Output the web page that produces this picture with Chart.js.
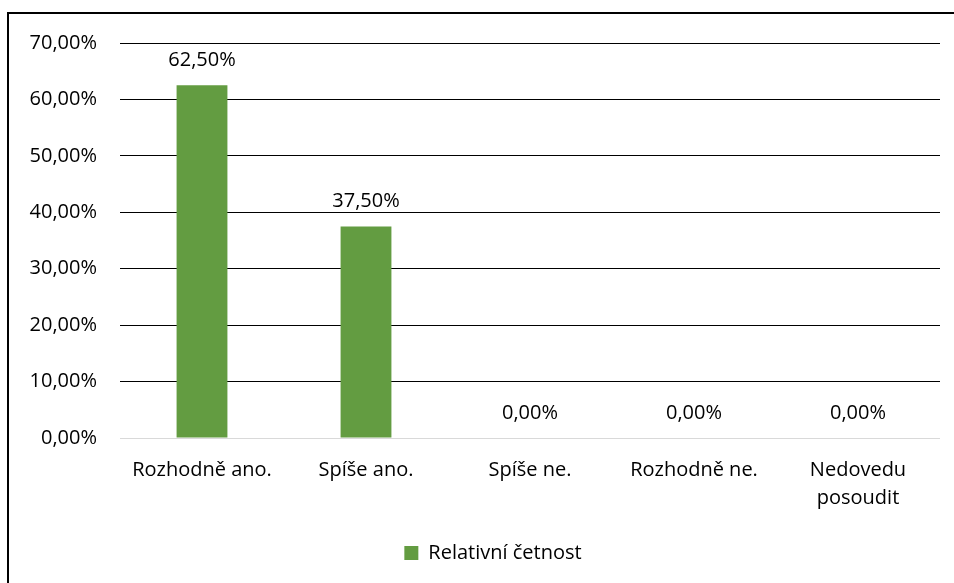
<!DOCTYPE html>
<html>
<head>
<meta charset="utf-8">
<script src="https://cdn.jsdelivr.net/npm/chart.js@4"></script>
<style>
  html, body { margin: 0; padding: 0; background: #fff; }
  #wrap { position: relative; width: 954px; height: 583px; overflow: hidden; }
  #frame { position: absolute; left: 7px; top: 12px; width: 1000px; height: 700px;
           border: 2.5px solid #000; box-sizing: border-box; pointer-events: none; }
  canvas { position: absolute; left: 0; top: 0; }
</style>
</head>
<body>
<div id="wrap">
  <canvas id="chart" width="954" height="583"></canvas>
  <div id="frame"></div>
</div>
<script>
// ── Data ──────────────────────────────────────────────────────────────────
const categories  = ['Rozhodně ano.', 'Spíše ano.', 'Spíše ne.', 'Rozhodně ne.', ['Nedovedu', 'posoudit']];
const relFreq     = [62.5, 37.5, 0, 0, 0];
const seriesLabel = 'Relativní četnost';
const yMin = 0, yMax = 70, yStep = 10;

const FONT  = "'Open Sans', sans-serif";
const GREEN = '#639c41';

const pct = v => v.toFixed(2).replace('.', ',') + '%';

// value labels above bars
const valueLabels = {
  id: 'valueLabels',
  afterDatasetsDraw(chart) {
    const { ctx } = chart;
    const meta = chart.getDatasetMeta(0);
    ctx.save();
    ctx.font = `20px ${FONT}`;
    ctx.fillStyle = '#000';
    ctx.textAlign = 'center';
    ctx.textBaseline = 'alphabetic';
    meta.data.forEach((bar, i) => {
      ctx.fillText(pct(relFreq[i]), bar.x, bar.y - 19);
    });
    ctx.restore();
  }
};

// legend sits a bit right of the canvas centre, as in the original
const legendShift = {
  id: 'legendShift',
  afterLayout(chart) {
    chart.legend.left += 46;
  }
};

new Chart(document.getElementById('chart'), {
  type: 'bar',
  data: {
    labels: categories,
    datasets: [{
      label: seriesLabel,
      data: relFreq,
      backgroundColor: GREEN,
      borderWidth: 0,
      barPercentage: 0.31,
      categoryPercentage: 1
    }]
  },
  options: {
    responsive: false,
    animation: false,
    layout: { padding: { left: 0, right: 14, top: 43, bottom: 10 } },
    plugins: {
      legend: {
        position: 'bottom',
        labels: {
          boxWidth: 14, boxHeight: 14, padding: 10,
          color: '#000', font: { family: FONT, size: 20 }
        }
      },
      tooltip: { enabled: false }
    },
    scales: {
      x: {
        grid: { display: false },
        border: { display: false },
        ticks: { color: '#000', padding: 10, maxRotation: 0, autoSkip: false,
                 font: { family: FONT, size: 20, lineHeight: 1.4 } },
        afterFit: s => { s.height = 95; }
      },
      y: {
        min: yMin, max: yMax,
        border: { display: false },
        grid: {
          drawTicks: false,
          lineWidth: 1,
          color: c => c.tick && c.tick.value === 0 ? '#d9d9d9' : '#000'
        },
        ticks: { stepSize: yStep, padding: 23, color: '#000',
                 font: { family: FONT, size: 20 }, callback: v => pct(v) },
        afterFit: s => { s.width = 120; }
      }
    }
  },
  plugins: [valueLabels, legendShift]
});
</script>
</body>
</html>
